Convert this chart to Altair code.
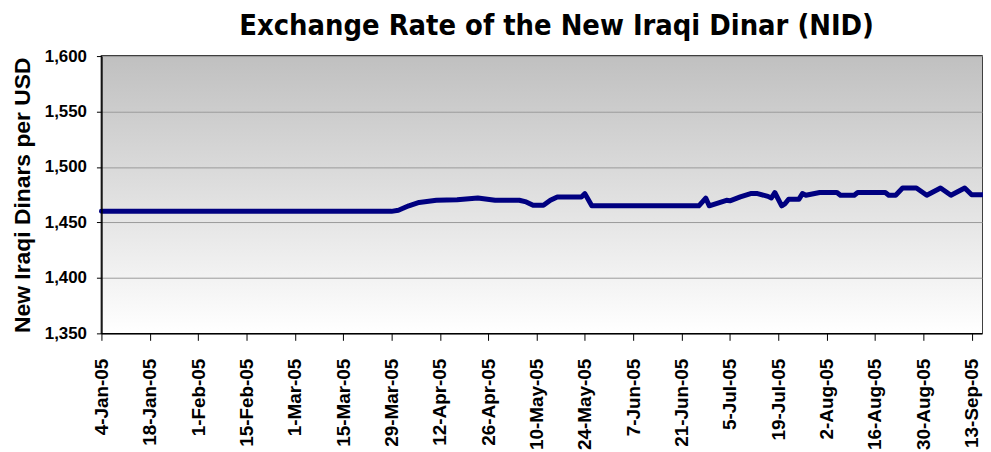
import altair as alt
import pandas as pd

chart_title = "Exchange Rate of the New Iraqi Dinar (NID)"
y_title = "New Iraqi Dinars per USD"

dates = [
    "2005-01-04", "2005-03-29", "2005-03-31", "2005-04-03", "2005-04-06",
    "2005-04-11", "2005-04-17", "2005-04-23", "2005-04-28", "2005-05-05",
    "2005-05-07", "2005-05-09", "2005-05-12", "2005-05-14", "2005-05-16",
    "2005-05-23", "2005-05-24", "2005-05-26", "2005-06-26", "2005-06-28",
    "2005-06-29", "2005-07-04", "2005-07-05", "2005-07-08", "2005-07-11",
    "2005-07-13", "2005-07-16", "2005-07-17", "2005-07-18", "2005-07-20",
    "2005-07-21", "2005-07-22", "2005-07-25", "2005-07-26", "2005-07-27",
    "2005-07-31", "2005-08-05", "2005-08-06", "2005-08-10", "2005-08-11",
    "2005-08-19", "2005-08-20", "2005-08-22", "2005-08-24", "2005-08-28",
    "2005-08-31", "2005-09-04", "2005-09-07", "2005-09-11", "2005-09-13",
    "2005-09-16",
]
rates = [
    1460, 1460, 1461, 1465, 1468,
    1470, 1470.5, 1472, 1470, 1470,
    1468.5, 1465.5, 1465.5, 1470, 1473,
    1473, 1476, 1465, 1465, 1472,
    1465, 1470, 1469.5, 1473, 1476,
    1476, 1473.5, 1472, 1477, 1465,
    1467, 1471, 1471, 1476, 1474.5,
    1477, 1477, 1474.5, 1474.5, 1477,
    1477, 1474.5, 1474.5, 1481, 1481,
    1474.5, 1481, 1474.5, 1481, 1475,
    1475,
]

tick_dates = [
    "2005-01-04", "2005-01-18", "2005-02-01", "2005-02-15", "2005-03-01",
    "2005-03-15", "2005-03-29", "2005-04-12", "2005-04-26", "2005-05-10",
    "2005-05-24", "2005-06-07", "2005-06-21", "2005-07-05", "2005-07-19",
    "2005-08-02", "2005-08-16", "2005-08-30", "2005-09-13",
]
x_domain = ["2005-01-04", "2005-09-16"]
y_ticks = [1350, 1400, 1450, 1500, 1550, 1600]


def ms(d):
    return int(pd.Timestamp(d, tz="UTC").value // 10**6)


df = pd.DataFrame({"date": [ms(d) for d in dates], "rate": rates})

W, H = 886, 279
LABEL_FONT = "Liberation Sans"
TITLE_FONT = "'DejaVu Sans Condensed', 'Liberation Sans', sans-serif"

bg = alt.Chart(pd.DataFrame({"k": [0]})).mark_rect(
    color=alt.LinearGradient(
        gradient="linear", x1=0, y1=0, x2=0, y2=1,
        stops=[alt.GradientStop(offset=0, color="#c0c0c0"),
               alt.GradientStop(offset=1, color="#ffffff")],
    )
).encode(x=alt.value(0), x2=alt.value(W), y=alt.value(0), y2=alt.value(H))

line = alt.Chart(df).mark_line(
    color="#000080", strokeWidth=5, strokeCap="round", strokeJoin="round"
).encode(
    x=alt.X(
        "date:T",
        scale=alt.Scale(type="utc", domain=[ms(d) for d in x_domain]),
        axis=alt.Axis(
            values=[ms(d) for d in tick_dates], format="%-d-%b-%y",
            labelAngle=270, labelFont=LABEL_FONT, labelFontSize=19,
            labelFontWeight="bold", labelColor="black", labelPadding=18,
            labelOverlap=False, labelFlush=False, tickSize=7, tickColor="black",
            domainColor="black", domainWidth=1.5, grid=False, title=None,
            zindex=1,
        ),
    ),
    y=alt.Y(
        "rate:Q",
        scale=alt.Scale(domain=[1350, 1600], nice=False, zero=False),
        axis=alt.Axis(
            values=y_ticks, format=",d", title=y_title,
            titleFont=LABEL_FONT, titleFontSize=23, titleFontWeight="bold",
            titleColor="black", titlePadding=10,
            labelFont=LABEL_FONT, labelFontSize=17, labelFontWeight="bold",
            labelColor="black", labelPadding=10, tickSize=5, tickColor="black",
            domainColor="black", domainWidth=1.5, grid=True,
            gridColor="#9a9a9a", gridWidth=1, zindex=1,
        ),
    ),
)

chart = alt.layer(bg, line).properties(
    width=W, height=H,
    title=alt.TitleParams(
        chart_title, font=TITLE_FONT, fontSize=29,
        fontWeight="bold", color="black", anchor="middle", frame="group",
        dx=15, offset=6,
    ),
    autosize=alt.AutoSizeParams(type="none"),
    padding={"left": 94, "top": 47, "right": 1, "bottom": 118},
).configure_view(stroke="black", strokeWidth=1.5)

chart.save("out.html", embed_options={"renderer": "svg", "actions": False})
